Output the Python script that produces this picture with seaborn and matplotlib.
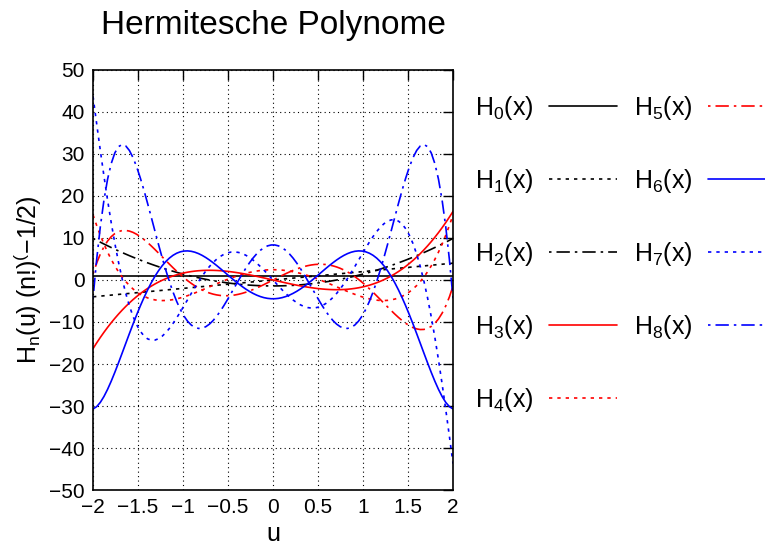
import math
import numpy as np
import pandas as pd
import matplotlib
matplotlib.use("Agg")
import matplotlib.pyplot as plt
import seaborn as sns

# Hermite polynomials H_n(u), scaled by (n!)^(-1/2)
orders = [0, 1, 2, 3, 4, 5, 6, 7, 8]
labels = [r"H$_\mathregular{%d}$(x)" % n for n in orders]
colors = ["black"] * 3 + ["red"] * 3 + ["blue"] * 3
u_range = [-2, 2]
n_samples = 100

dotted = (0, (2, 3))
dashdot = (0, (1.5, 3, 8, 3))
styles = ["-", dotted, dashdot] * 3

u = np.linspace(u_range[0], u_range[1], n_samples)
frames = []
for n, lab in zip(orders, labels):
    coef = np.zeros(n + 1)
    coef[n] = 1
    h = np.polynomial.hermite.hermval(u, coef) / math.sqrt(math.factorial(n))
    frames.append(pd.DataFrame({"u": u, "H": h, "name": lab}))
df = pd.concat(frames, ignore_index=True)

sns.set_theme(style="white")
plt.rcParams["font.family"] = ["Liberation Sans", "DejaVu Sans"]
plt.rcParams["mathtext.fontset"] = "custom"
plt.rcParams["mathtext.rm"] = "Liberation Sans"
plt.rcParams["text.color"] = "black"
plt.rcParams["axes.labelcolor"] = "black"

fig = plt.figure(figsize=(7.65, 5.45), dpi=100)
ax = fig.add_axes([0.1216, 0.1009, 0.4706, 0.7707])

for lab, col, ls in zip(labels, colors, styles):
    sns.lineplot(data=df[df["name"] == lab], x="u", y="H", ax=ax,
                 color=col, linestyle=ls, linewidth=1.2, label=lab,
                 legend=False)

ax.set_xlim(-2, 2)
ax.set_ylim(-50, 50)
ax.set_xticks(np.arange(-2, 2.01, 0.5))
ax.set_xticklabels(["−2", "−1.5", "−1", "−0.5", "0", "0.5", "1", "1.5", "2"])
ax.set_yticks(np.arange(-50, 51, 10))
ax.grid(True, color="black", linestyle=(0, (1, 3)), linewidth=0.8)
ax.tick_params(direction="in", top=True, right=True, length=7, width=1,
               labelsize=15, colors="black", pad=6)
for s in ax.spines.values():
    s.set_color("black")
    s.set_linewidth(1.2)

ax.set_xlabel("u", fontsize=18, labelpad=3)
ax.set_ylabel(r"H$_\mathregular{n}$(u) (n!)$^\mathregular{(}$−1/2)", fontsize=18, labelpad=4)
ax.set_title("Hermitesche Polynome", fontsize=24, pad=26, color="black")

handles, labs = ax.get_legend_handles_labels()
fig.legend(handles, labs, loc="upper left", bbox_to_anchor=(0.621, 0.828),
           ncol=2, frameon=False, markerfirst=False, fontsize=18,
           handlelength=2.7, handletextpad=0.64, labelspacing=1.8,
           columnspacing=0.68, borderpad=0, borderaxespad=0)

fig.savefig("out.png", dpi=100)
